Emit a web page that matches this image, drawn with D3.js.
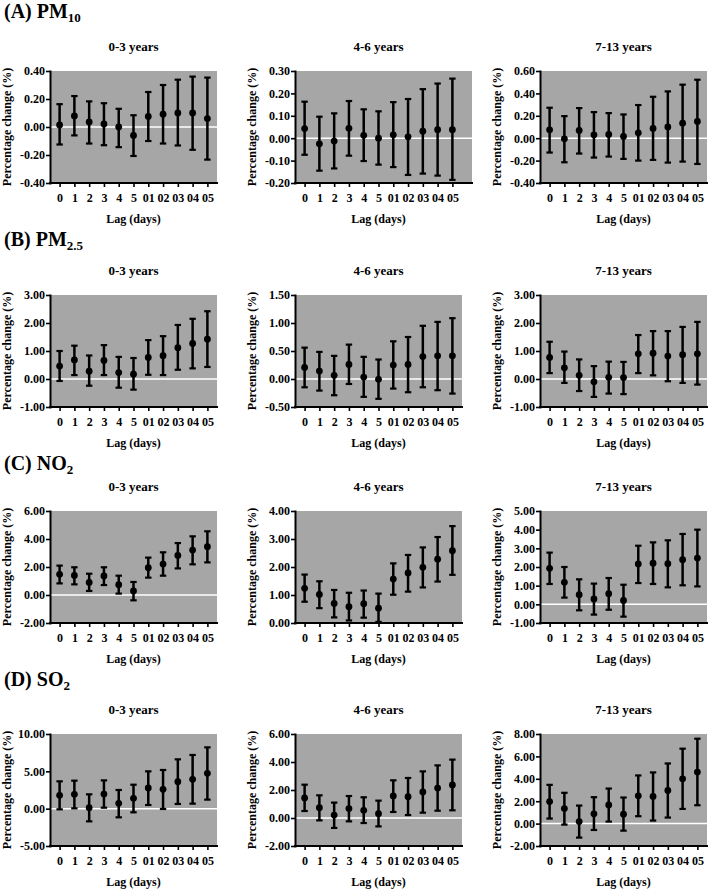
<!DOCTYPE html>
<html><head><meta charset="utf-8">
<script src="https://cdn.jsdelivr.net/npm/d3@7"></script>
<style>
body{margin:0;background:#fff}
text{font-family:"Liberation Serif","Times New Roman","DejaVu Serif",serif;font-weight:bold;fill:#000}
</style>
</head><body><svg id="c" width="709" height="889"></svg>
<script>
// ---------- categories ----------
const lags = ["0","1","2","3","4","5","01","02","03","04","05"];
const ageGroups = ["0-3 years","4-6 years","7-13 years"];
const sectionMain = ["(A) PM","(B) PM","(C) NO","(D) SO"];
const sectionSub  = ["10","2.5","2","2"];
const yAxisTitle = "Percentage change (%)";
const xAxisTitle = "Lag (days)";

// ---------- y tick labels ----------
const pm10_03_ticks = [-0.4,-0.2,0,0.2,0.4];
const pm10_46_ticks = [-0.2,-0.1,0,0.1,0.2,0.3];
const pm10_713_ticks = [-0.4,-0.2,0,0.2,0.4,0.6];
const pm25_03_ticks = [-1,0,1,2,3];
const pm25_46_ticks = [-0.5,0,0.5,1,1.5];
const pm25_713_ticks = [-1,0,1,2,3];
const no2_03_ticks = [-2,0,2,4,6];
const no2_46_ticks = [0,1,2,3,4];
const no2_713_ticks = [-1,0,1,2,3,4,5];
const so2_03_ticks = [-5,0,5,10];
const so2_46_ticks = [-2,0,2,4,6];
const so2_713_ticks = [-2,0,2,4,6,8];

// ---------- series values (estimate, lower CI, upper CI) ----------
const pm10_03_est = [0.015,0.079,0.036,0.022,0.000,-0.060,0.075,0.091,0.100,0.100,0.060];
const pm10_03_lo  = [-0.125,-0.060,-0.118,-0.130,-0.144,-0.207,-0.100,-0.118,-0.132,-0.163,-0.233];
const pm10_03_hi  = [0.163,0.221,0.183,0.170,0.130,0.084,0.250,0.300,0.338,0.360,0.353];

const pm10_46_est = [0.043,-0.025,-0.013,0.044,0.013,0.000,0.015,0.006,0.031,0.038,0.038];
const pm10_46_lo  = [-0.074,-0.145,-0.135,-0.078,-0.102,-0.118,-0.129,-0.164,-0.158,-0.167,-0.186];
const pm10_46_hi  = [0.163,0.096,0.111,0.166,0.129,0.120,0.161,0.175,0.219,0.244,0.266];

const pm10_713_est = [0.075,-0.006,0.069,0.030,0.033,0.015,0.048,0.087,0.100,0.134,0.149];
const pm10_713_lo  = [-0.128,-0.215,-0.137,-0.173,-0.164,-0.185,-0.200,-0.194,-0.218,-0.209,-0.230];
const pm10_713_hi  = [0.272,0.197,0.269,0.233,0.224,0.212,0.296,0.370,0.418,0.478,0.522];

const pm25_03_est = [0.46,0.68,0.28,0.66,0.23,0.17,0.77,0.83,1.12,1.27,1.42];
const pm25_03_lo  = [-0.07,0.14,-0.24,0.14,-0.31,-0.38,0.15,0.14,0.33,0.38,0.43];
const pm25_03_hi  = [1.00,1.19,0.84,1.21,0.79,0.75,1.39,1.53,1.93,2.15,2.42];

const pm25_46_est = [0.207,0.142,0.065,0.260,0.035,-0.006,0.248,0.260,0.401,0.413,0.413];
const pm25_46_lo  = [-0.148,-0.207,-0.290,-0.089,-0.319,-0.354,-0.171,-0.236,-0.148,-0.200,-0.260];
const pm25_46_hi  = [0.560,0.484,0.413,0.614,0.396,0.348,0.673,0.750,0.950,1.020,1.086];

const pm25_713_est = [0.77,0.40,0.13,-0.10,0.06,0.05,0.90,0.92,0.82,0.87,0.90];
const pm25_713_lo  = [0.21,-0.14,-0.43,-0.64,-0.52,-0.54,0.21,0.13,-0.08,-0.14,-0.20];
const pm25_713_hi  = [1.33,0.98,0.70,0.46,0.62,0.61,1.57,1.71,1.71,1.86,2.04];

const no2_03_est = [1.48,1.40,0.90,1.36,0.74,0.29,1.95,2.21,2.83,3.21,3.45];
const no2_03_lo  = [0.83,0.76,0.29,0.71,0.10,-0.38,1.24,1.38,1.90,2.19,2.33];
const no2_03_hi  = [2.10,1.98,1.52,1.98,1.38,0.93,2.67,3.05,3.71,4.19,4.55];

const no2_46_est = [1.24,1.02,0.70,0.58,0.69,0.53,1.57,1.79,1.99,2.28,2.58];
const no2_46_lo  = [0.76,0.53,0.20,0.09,0.19,0.04,1.01,1.12,1.27,1.48,1.72];
const no2_46_hi  = [1.73,1.49,1.18,1.08,1.16,1.05,2.13,2.43,2.70,3.07,3.46];

const no2_713_est = [1.93,1.18,0.52,0.29,0.57,0.21,2.16,2.20,2.18,2.39,2.48];
const no2_713_lo  = [1.09,0.36,-0.32,-0.55,-0.29,-0.66,1.14,1.09,0.91,1.02,0.96];
const no2_713_hi  = [2.77,2.00,1.34,1.11,1.41,1.05,3.14,3.32,3.43,3.77,4.00];

const so2_03_est = [1.79,1.92,0.13,1.96,0.71,1.38,2.77,2.59,3.62,3.93,4.73];
const so2_03_lo  = [-0.09,0.04,-1.70,0.13,-1.16,-0.49,0.49,-0.04,0.63,0.67,1.21];
const so2_03_hi  = [3.66,3.75,1.92,3.79,2.50,3.21,5.00,5.18,6.61,7.19,8.21];

const so2_46_est = [1.43,0.74,0.21,0.67,0.55,0.31,1.57,1.52,1.86,2.14,2.36];
const so2_46_lo  = [0.50,-0.17,-0.71,-0.24,-0.36,-0.60,0.43,0.21,0.38,0.52,0.55];
const so2_46_hi  = [2.38,1.62,1.10,1.57,1.48,1.24,2.69,2.86,3.33,3.76,4.17];

const so2_713_est = [1.97,1.34,0.18,0.87,1.67,0.84,2.48,2.42,2.96,4.00,4.60];
const so2_713_lo  = [0.45,-0.09,-1.25,-0.57,0.18,-0.63,0.66,0.27,0.54,1.31,1.64];
const so2_713_hi  = [3.46,2.75,1.61,2.36,3.13,2.33,4.30,4.57,5.37,6.69,7.58];

// ---------- panel table built from the arrays ----------
const panelData = [
  [[pm10_03_est,pm10_03_lo,pm10_03_hi,pm10_03_ticks],[pm10_46_est,pm10_46_lo,pm10_46_hi,pm10_46_ticks],[pm10_713_est,pm10_713_lo,pm10_713_hi,pm10_713_ticks]],
  [[pm25_03_est,pm25_03_lo,pm25_03_hi,pm25_03_ticks],[pm25_46_est,pm25_46_lo,pm25_46_hi,pm25_46_ticks],[pm25_713_est,pm25_713_lo,pm25_713_hi,pm25_713_ticks]],
  [[no2_03_est,no2_03_lo,no2_03_hi,no2_03_ticks],[no2_46_est,no2_46_lo,no2_46_hi,no2_46_ticks],[no2_713_est,no2_713_lo,no2_713_hi,no2_713_ticks]],
  [[so2_03_est,so2_03_lo,so2_03_hi,so2_03_ticks],[so2_46_est,so2_46_lo,so2_46_hi,so2_46_ticks],[so2_713_est,so2_713_lo,so2_713_hi,so2_713_ticks]]
];

// ---------- layout ----------
const rowTop = [71, 295, 511, 734];
const sectionY = [18, 246, 470, 686];
const colLeft = [50, 295, 540];
const plotW = 167, plotH = 112;
const bgColor = "#a6a6a6";
const FONT = '"Liberation Serif","Times New Roman","DejaVu Serif",serif';

const svg = d3.select("#c");

panelData.forEach((row, r) => {
  const st = svg.append("text").attr("x", 4).attr("y", sectionY[r])
    .attr("font-family", FONT).style("font-size", "20px");
  st.append("tspan").text(sectionMain[r]);
  st.append("tspan").attr("dy", 4).style("font-size", "13px").text(sectionSub[r]);

  row.forEach((p, c) => {
    const [est, lo, hi, ticks] = p;
    const x0 = colLeft[c], top = rowTop[r], bottom = top + plotH;
    const bgW = (r === 0 && c === 1) ? plotW + 10 : plotW;
    const x = d3.scalePoint().domain(lags).range([x0, x0 + plotW]).padding(0.65);
    const y = d3.scaleLinear().domain(d3.extent(ticks)).range([bottom, top]);
    const g = svg.append("g");

    g.append("rect").attr("x", x0).attr("y", top).attr("width", bgW).attr("height", plotH).attr("fill", bgColor);
    g.append("line").attr("x1", x0).attr("x2", x0 + bgW).attr("y1", y(0)).attr("y2", y(0))
      .attr("stroke", "#fff").attr("stroke-width", 1.5);

    const pts = lags.map((l, i) => ({l, e: est[i], lo: lo[i], hi: hi[i]}));
    const eb = g.append("g").selectAll("g").data(pts).join("g");
    eb.append("line").attr("x1", d => x(d.l)).attr("x2", d => x(d.l))
      .attr("y1", d => y(d.lo)).attr("y2", d => y(d.hi)).attr("stroke", "#000").attr("stroke-width", 2.5);
    [ "lo", "hi" ].forEach(k => {
      eb.append("line").attr("x1", d => x(d.l) - 3.2).attr("x2", d => x(d.l) + 3.2)
        .attr("y1", d => y(d[k])).attr("y2", d => y(d[k])).attr("stroke", "#000").attr("stroke-width", 2.2);
    });
    eb.append("circle").attr("cx", d => x(d.l)).attr("cy", d => y(d.e)).attr("r", 3.4).attr("fill", "#000");

    const ya = g.append("g").attr("transform", `translate(${x0},0)`)
      .call(d3.axisLeft(y).tickValues(ticks).tickFormat(d => d.toFixed(2)).tickSize(4).tickSizeOuter(0).tickPadding(1));
    const xa = g.append("g").attr("transform", `translate(0,${bottom})`)
      .call(d3.axisBottom(x).tickSize(4).tickSizeOuter(0).tickPadding(6));
    xa.select(".domain").attr("d", `M${x0},0H${x0 + bgW}`);
    [ya, xa].forEach(a => {
      a.attr("font-family", FONT);
      a.select(".domain").attr("stroke", "#000").attr("stroke-width", 2).attr("stroke-linecap", "square");
      a.selectAll(".tick line").attr("stroke", "#000").attr("stroke-width", 1.6);
      a.selectAll("text").attr("fill", "#000")
        .style("font-family", FONT)
        .style("font-weight", "bold").style("font-size", "12px");
    });

    const cx = x0 + plotW / 2;
    g.append("text").attr("x", cx).attr("y", top - 20).attr("text-anchor", "middle")
      .attr("font-family", FONT).style("font-size", "13px").text(ageGroups[c]);
    g.append("text").attr("x", cx).attr("y", bottom + 40).attr("text-anchor", "middle")
      .attr("font-family", FONT).style("font-size", "12px").text(xAxisTitle);
    g.append("text").attr("transform", `translate(${x0 - 39},${top + plotH / 2}) rotate(-90)`)
      .attr("font-family", FONT).attr("text-anchor", "middle").style("font-size", "12px").text(yAxisTitle);
  });
});
</script>
</body></html>
